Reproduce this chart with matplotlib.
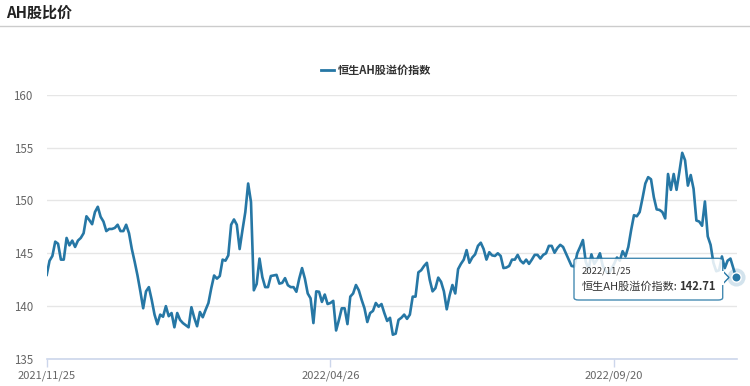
import numpy as np
import matplotlib
matplotlib.use("Agg")
import matplotlib.pyplot as plt
from matplotlib.patches import FancyBboxPatch, Polygon

plt.rcParams['font.family'] = ['Noto Sans CJK SC', 'DejaVu Sans']

title = "AH股比价"
series_name = "恒生AH股溢价指数"
tick_pos = [0, 100, 200]
tick_labels = ["2021/11/25", "2022/04/26", "2022/09/20"]
last_date = "2022/11/25"

# index values, one per trading day
seg1 = [142.96, 144.3, 144.75, 146.1, 145.9, 144.4, 144.4, 146.45, 145.75, 146.2,
        145.6, 146.2, 146.45, 146.9, 148.5, 148.15, 147.75, 148.9, 149.4, 148.45,
        148.0, 147.1, 147.3, 147.3, 147.4, 147.7, 147.1, 147.1, 147.7, 146.9,
        145.4, 144.2, 142.9, 141.4, 139.8, 141.4, 141.8, 140.6, 139.2]
seg2 = [138.3, 139.2, 139.0, 140.0, 139.05, 139.35, 138.0, 139.35, 138.7, 138.4,
        138.2, 138.0, 139.9, 138.9, 138.1, 139.45, 138.95, 139.65, 140.3, 141.7,
        142.9, 142.6, 142.85, 144.4, 144.3, 144.8, 147.7, 148.2, 147.7, 145.4,
        147.2, 148.9, 151.6, 149.85, 141.5, 142.1, 144.5, 142.75, 141.8, 141.8,
        142.85]
seg3 = [142.9, 142.96, 142.13, 142.2, 142.65, 141.98, 141.8, 141.8, 141.36, 142.6,
        143.6, 142.6, 141.2, 140.74, 138.4, 141.4, 141.36, 140.4, 141.1, 140.2,
        140.3, 140.5, 137.7, 138.7, 139.8, 139.8, 138.3, 140.9, 141.2, 142.0,
        141.5, 140.6, 139.8, 138.5, 139.35, 139.55, 140.3, 139.95, 140.2, 139.35,
        138.6, 138.9]
seg4 = [137.3, 137.4, 138.7, 138.9, 139.2, 138.8, 139.2, 140.9, 140.9, 143.2,
        143.4, 143.8, 144.1, 142.5, 141.4, 141.7, 142.7, 142.3, 141.4, 139.7,
        141.0, 142.0, 141.2, 143.5, 144.0, 144.4, 145.3, 144.1, 144.6, 144.9,
        145.7, 146.0, 145.4, 144.4, 145.1, 144.8, 144.75, 145.0, 144.75, 143.6]
seg5 = [143.65, 143.8, 144.4, 144.4, 144.85, 144.3, 144.05, 144.4, 144.0, 144.4,
        144.85, 144.85, 144.5, 144.85, 145.0, 145.7, 145.7, 145.05, 145.5, 145.8,
        145.6, 145.0, 144.4, 143.8, 143.75, 145.0, 145.6, 146.25]
seg6 = [144.2, 143.5, 144.9, 144.0, 144.4, 145.0, 143.8, 143.3, 143.1, 143.5,
        144.0, 144.6, 144.3, 145.2, 144.7, 145.6, 147.2, 148.6, 148.5, 148.9,
        150.2, 151.6, 152.2, 152.0, 150.3, 149.15, 149.1, 148.9, 148.3, 152.5,
        151.0, 152.5, 151.0, 152.7, 154.5, 153.8, 151.4, 152.4, 151.1, 148.1,
        148.0, 147.6, 149.9, 146.6, 145.8, 144.1, 143.3, 143.4, 144.7, 143.6,
        144.3, 144.5, 143.6, 142.71]
values = np.array(seg1 + seg2 + seg3 + seg4 + seg5 + seg6)
x = np.arange(len(values))

line_color = "#2677a5"
grid_color = "#e6e6e6"
axis_color = "#ccd6eb"

fig = plt.figure(figsize=(7.5, 3.86), dpi=100)
ax = fig.add_axes([0.0623, 0.0699, 0.9207, 0.6848])

ax.plot(x, values, color=line_color, lw=1.9, solid_joinstyle="round", zorder=3)
ax.set_xlim(0, len(values) - 1 + 0.4)
ax.set_ylim(135, 160)
ax.set_yticks([135, 140, 145, 150, 155, 160])
ax.grid(axis="y", color=grid_color, lw=1)
ax.set_axisbelow(True)
for s in ["top", "right", "left"]:
    ax.spines[s].set_visible(False)
ax.spines["bottom"].set_color(axis_color)
ax.spines["bottom"].set_linewidth(1.2)
ax.set_xticks(tick_pos)
ax.set_xticklabels(tick_labels)
ax.tick_params(axis="x", colors=axis_color, length=6, width=1, pad=2, labelsize=8,
               labelcolor="#666666")
ax.tick_params(axis="y", length=0, pad=10, labelsize=8.3, labelcolor="#666666")

# last point highlight
ax.scatter([x[-1]], [values[-1]], s=170, color=line_color, alpha=0.2, lw=0, zorder=4,
           clip_on=False)
ax.scatter([x[-1]], [values[-1]], s=45, color=line_color, edgecolor="white", lw=1,
           zorder=5, clip_on=False)

# title and rule
fig.text(0.008, 0.968, title, fontsize=10.8, fontweight="bold", color="#222222",
         ha="left", va="center")
fig.add_artist(plt.Line2D([0, 1], [0.933, 0.933], transform=fig.transFigure,
                          color="#cccccc", lw=1))

# legend
ly = 1 - 70 / 386
fig.add_artist(plt.Line2D([321 / 750, 334 / 750], [ly, ly], transform=fig.transFigure,
                          color=line_color, lw=2))
fig.text(338 / 750, ly, series_name, fontsize=8, fontweight="bold", color="#333333",
         ha="left", va="center")

# tooltip
x0, x1 = 574 / 750, 722.7 / 750
y0, y1 = 1 - 300 / 386, 1 - 258.3 / 386
box = FancyBboxPatch((x0, y0), x1 - x0, y1 - y0, boxstyle="round,pad=0,rounding_size=0.006",
                     transform=fig.transFigure, facecolor="white", alpha=0.85,
                     edgecolor=line_color, lw=1, zorder=6)
fig.add_artist(box)
tri = Polygon([[x1, 1 - 271 / 386], [729 / 750, 1 - 277.5 / 386], [x1, 1 - 284 / 386]],
              closed=True, transform=fig.transFigure, facecolor="white",
              edgecolor=line_color, lw=1, zorder=6)
fig.add_artist(tri)
fig.add_artist(plt.Line2D([x1, x1], [1 - 271.5 / 386, 1 - 283.5 / 386],
                          transform=fig.transFigure, color="white", lw=1.5, zorder=7))
fig.text(582 / 750, 1 - 271 / 386, last_date, fontsize=6.8, color="#333333",
         ha="left", va="center", zorder=8)
t1 = fig.text(582 / 750, 1 - 287 / 386, series_name + ":", fontsize=8, color="#333333",
              ha="left", va="center", zorder=8)
fig.canvas.draw()
bb = t1.get_window_extent().transformed(fig.transFigure.inverted())
fig.text(bb.x1 + 0.001, 1 - 287 / 386, f"{values[-1]:.2f}", fontsize=8, fontweight="bold",
         color="#333333", ha="left", va="center", zorder=8)

fig.savefig("out.png", dpi=100)
